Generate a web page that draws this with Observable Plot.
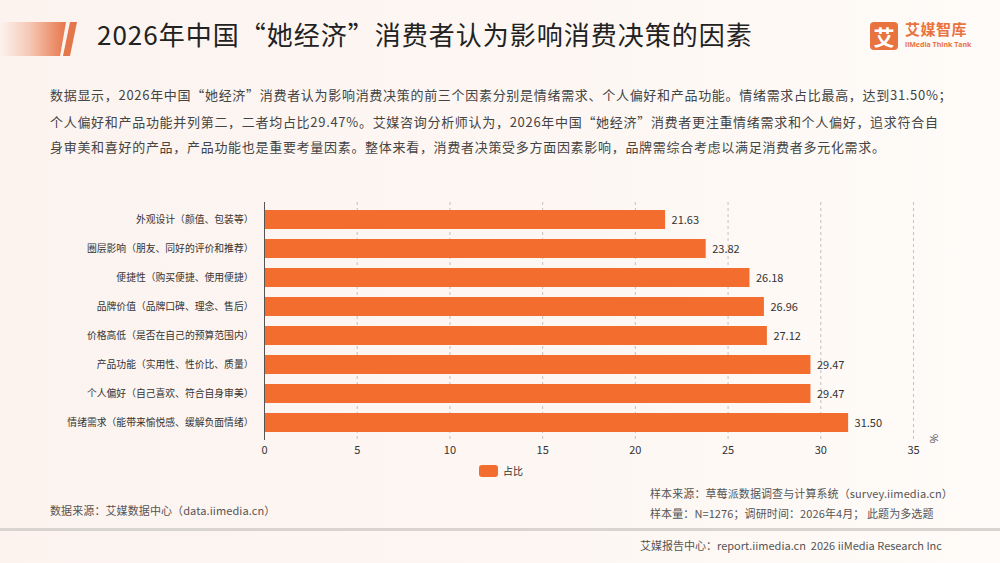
<!DOCTYPE html>
<html>
<head>
<meta charset="utf-8">
<script src="https://cdn.jsdelivr.net/npm/d3@7"></script>
<script src="https://cdn.jsdelivr.net/npm/@observablehq/plot@0.6"></script>
<style>
  html, body { margin: 0; padding: 0; }
  body {
    width: 1000px; height: 563px; position: relative; overflow: hidden;
    background: linear-gradient(90deg, #fcf3ef 0%, #fdf7f3 60%, #fefbf8 100%);
    font-family: "Noto Sans CJK SC", "Noto Sans", sans-serif;
  }
  .abs { position: absolute; white-space: nowrap; }
  .deco-block {
    left: 0; top: 22px; width: 66px; height: 34px;
    background: linear-gradient(90deg, rgba(232,118,74,0) 0%, rgba(232,118,74,0.35) 45%, #e7764a 100%);
    clip-path: polygon(0 0, 100% 0, 91% 100%, 0 100%);
  }
  .deco-stripe {
    left: 63px; top: 22px; width: 14px; height: 34px; background: #e3764b;
    clip-path: polygon(50% 0, 100% 0, 50% 100%, 0 100%);
  }
  .title { left: 97px; top: 19px; font-size: 26px; line-height: 30px; color: #222; letter-spacing: 1.0px; font-weight: 400; }
  .logo-box {
    left: 870px; top: 22px; width: 28px; height: 28px; border-radius: 4px; background: #e9733f;
    color: #fff; font-size: 21px; line-height: 28px; text-align: center; font-weight: 700;
  }
  .logo-cn { left: 905px; top: 20px; font-size: 15px; line-height: 18px; color: #e9733f; font-weight: 700; letter-spacing: 0.5px; }
  .logo-en { left: 905px; top: 40px; font-size: 7px; line-height: 9px; color: #e9733f; font-weight: 700; font-family: "Open Sans", sans-serif; }
  .para { left: 50px; font-size: 13px; line-height: 20px; color: #444; letter-spacing: 0.7px; }
  #chart { position: absolute; left: 0; top: 190px; }
  .legend-swatch { left: 479px; top: 465px; width: 19px; height: 12px; border-radius: 3px; background: #f26d2e; }
  .legend-text { left: 503px; top: 463px; font-size: 10px; line-height: 16px; color: #333; }
  .foot { font-size: 11px; line-height: 16px; color: #555; letter-spacing: 0.1px; }
  .sep { left: 0; top: 528px; width: 1000px; height: 3px; background: #d9d4d0; }
</style>
</head>
<body>
<div class="abs deco-block"></div>
<div class="abs deco-stripe"></div>
<div class="abs title">2026年中国“她经济”消费者认为影响消费决策的因素</div>
<div class="abs logo-box">艾</div>
<div class="abs logo-cn">艾媒智库</div>
<div class="abs logo-en">iiMedia Think Tank</div>

<div class="abs para" style="top:85px">数据显示，2026年中国“她经济”消费者认为影响消费决策的前三个因素分别是情绪需求、个人偏好和产品功能。情绪需求占比最高，达到31.50%；</div>
<div class="abs para" style="top:112px">个人偏好和产品功能并列第二，二者均占比29.47%。艾媒咨询分析师认为，2026年中国“她经济”消费者更注重情绪需求和个人偏好，追求符合自</div>
<div class="abs para" style="top:137px">身审美和喜好的产品，产品功能也是重要考量因素。整体来看，消费者决策受多方面因素影响，品牌需综合考虑以满足消费者多元化需求。</div>

<div id="chart"></div>

<div class="abs legend-swatch"></div>
<div class="abs legend-text">占比</div>

<div class="abs foot" style="left:50px; top:502px">数据来源：艾媒数据中心（data.iimedia.cn）</div>
<div class="abs foot" style="left:650px; top:485px">样本来源：草莓派数据调查与计算系统（survey.iimedia.cn）</div>
<div class="abs foot" style="left:650px; top:505px">样本量：N=1276；调研时间：2026年4月； 此题为多选题</div>
<div class="abs sep"></div>
<div class="abs foot" style="left:640px; top:537px; letter-spacing:0">艾媒报告中心：report.iimedia.cn&nbsp;&nbsp;2026 iiMedia Research Inc</div>

<script>
// Factors influencing purchase decisions, top to bottom as drawn
const factors = [
  "外观设计（颜值、包装等）",
  "圈层影响（朋友、同好的评价和推荐）",
  "便捷性（购买便捷、使用便捷）",
  "品牌价值（品牌口碑、理念、售后）",
  "价格高低（是否在自己的预算范围内）",
  "产品功能（实用性、性价比、质量）",
  "个人偏好（自己喜欢、符合自身审美）",
  "情绪需求（能带来愉悦感、缓解负面情绪）"
];
// Share of respondents (%)
const shares = [21.63, 23.82, 26.18, 26.96, 27.12, 29.47, 29.47, 31.50];
const xTicks = [0, 5, 10, 15, 20, 25, 30, 35];

const data = factors.map((factor, i) => ({factor, share: shares[i]}));

const chart = Plot.plot({
  width: 1000,
  height: 280,
  marginLeft: 264,
  marginRight: 87,
  marginTop: 12,
  marginBottom: 30,
  style: {
    fontFamily: "'Noto Sans CJK SC', 'Noto Sans', sans-serif",
    background: "transparent",
    color: "#333"
  },
  x: {domain: [0, 35], label: null},
  y: {domain: factors, label: null, paddingInner: 0.33, paddingOuter: 0.165},
  marks: [
    Plot.gridX(xTicks, {stroke: "#aaa", strokeOpacity: 0.7, strokeDasharray: "3,3"}),
    Plot.barX(data, {x: "share", y: "factor", fill: "#f26d2e"}),
    Plot.ruleX([0], {stroke: "#555"}),
    Plot.text(data, {
      x: "share", y: "factor",
      text: d => d.share.toFixed(2),
      dx: 6, textAnchor: "start", fontSize: 11, fill: "#333"
    }),
    Plot.axisX({ticks: xTicks, tickSize: 0, tickPadding: 6, fontSize: 11, label: null}),
    Plot.axisY({tickSize: 0, tickPadding: 11, fontSize: 9.8, label: null}),
    Plot.text(["%"], {
      frameAnchor: "bottom-right", dx: 20, dy: -2, rotate: 90,
      textAnchor: "middle", lineAnchor: "middle", fontSize: 10, fill: "#444"
    })
  ]
});
document.getElementById("chart").appendChild(chart);
</script>
</body>
</html>
